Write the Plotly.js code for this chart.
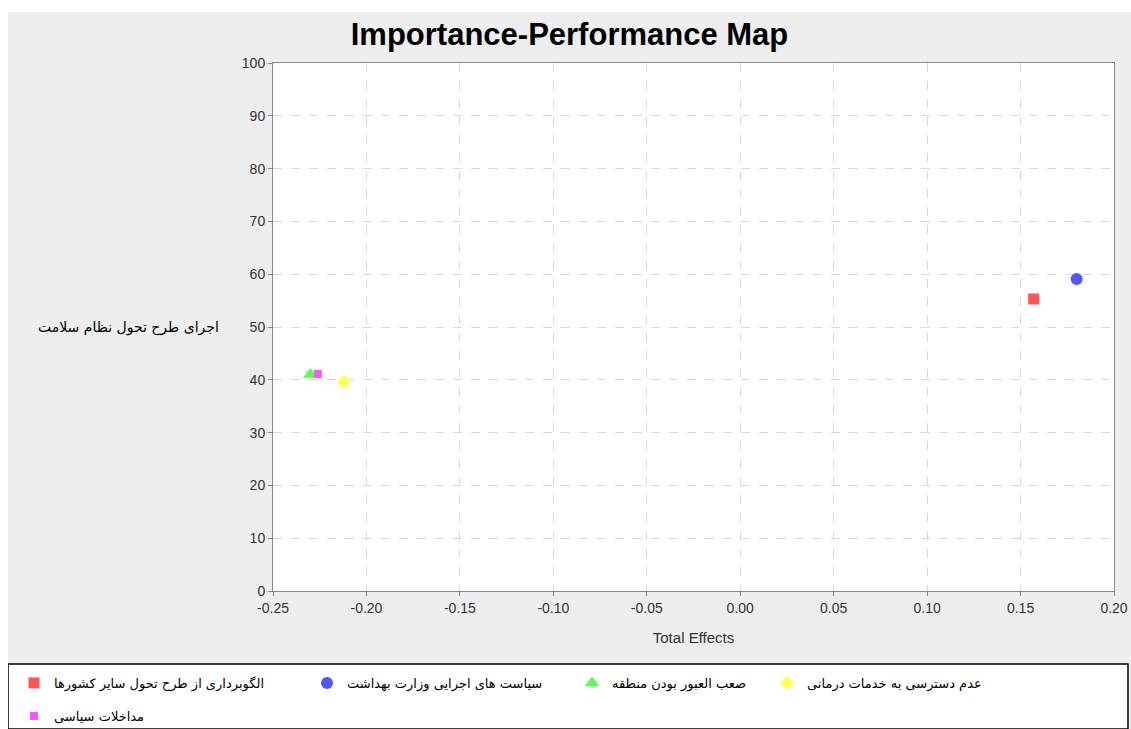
<!DOCTYPE html>
<html><head><meta charset="utf-8">
<script src="https://cdn.plot.ly/plotly-3.0.1.min.js"></script>
<style>
html,body{margin:0;padding:0;background:#ffffff;overflow:hidden;}
#chart{position:absolute;left:8px;top:12px;width:1123px;height:717px;}
</style></head>
<body><div id="chart"></div>
<script>
// Data
const seriesNames = [
  "الگوبرداری از طرح تحول سایر کشورها",
  "سیاست های اجرایی وزارت بهداشت",
  "صعب العبور بودن منطقه",
  "عدم دسترسی به خدمات درمانی",
  "مداخلات سیاسی"
];
const totalEffects = [0.157, 0.180, -0.230, -0.212, -0.226];
const performance = [55.3, 59.1, 41.0, 39.6, 41.1];
const colors = ["#ff5555", "#5555ff", "#55ff55", "#ffff55", "#ff55ff"];
const symbols = ["square", "circle", "triangle-up", "diamond", "square"];
const sizes = [11, 12, 13, 11, 8];
const xTickVals = [-0.25, -0.20, -0.15, -0.10, -0.05, 0.00, 0.05, 0.10, 0.15, 0.20];
const xTickText = ["-0.25", "-0.20", "-0.15", "-0.10", "-0.05", "0.00", "0.05", "0.10", "0.15", "0.20"];
const yTickVals = [0, 10, 20, 30, 40, 50, 60, 70, 80, 90, 100];
const yTitle = "اجرای طرح تحول نظام سلامت";

// legend entry placement (page pixels of marker centre / row centre)
const legendMarkerX = [30, 323, 588, 783, 30];
const legendRowY = [683, 683, 683, 683, 716];

const W = 1123, H = 717, ML = 265, MR = 17, MT = 51, MB = 138;
const PW = W - ML - MR, PH = H - MT - MB;
const px2paperX = p => ((p - 8) - ML) / PW;
const px2paperY = p => ((H - MB) - (p - 12)) / PH;

const legendKey = i => (i === 0 ? "legend" : "legend" + (i + 1));

const traces = seriesNames.map((n, i) => ({
  type: "scatter", mode: "markers", name: n,
  x: [totalEffects[i]], y: [performance[i]],
  marker: {color: colors[i], symbol: symbols[i], size: sizes[i], line: {width: 0}},
  legend: legendKey(i)
}));

const font = {family: "Liberation Sans, Arial, sans-serif", color: "#333333"};
const legendFont = {family: "DejaVu Sans, sans-serif", size: 13, color: "#000000"};

const layout = {
  width: W, height: H,
  paper_bgcolor: "#eeeeee", plot_bgcolor: "#ffffff",
  margin: {l: ML, r: MR, t: MT, b: MB, autoexpand: false},
  font: font,
  title: {text: "<b>Importance-Performance Map</b>", x: 0.5, xref: "container", xanchor: "center",
          y: 1 - 22 / H, yref: "container", yanchor: "middle",
          font: {family: "Liberation Sans, Arial, sans-serif", size: 31, color: "#000000"}},
  xaxis: {range: [-0.25, 0.20], tickvals: xTickVals, ticktext: xTickText,
          showgrid: true, gridcolor: "#d9d9d9", griddash: "dash", gridwidth: 1,
          zeroline: false, showline: true, linecolor: "#888888", linewidth: 1, mirror: true,
          ticks: "outside", ticklen: 4, tickcolor: "#888888",
          tickfont: {size: 14, color: "#333333"},
          title: {text: "Total Effects", font: {size: 15, color: "#333333"}, standoff: 17}},
  yaxis: {range: [0, 100], tickvals: yTickVals,
          showgrid: true, gridcolor: "#d9d9d9", griddash: "dash", gridwidth: 1,
          zeroline: false, showline: true, linecolor: "#888888", linewidth: 1, mirror: true,
          ticks: "outside", ticklen: 4, tickcolor: "#888888",
          tickfont: {size: 14, color: "#333333"}},
  showlegend: true,
  shapes: [{type: "rect", xref: "paper", yref: "paper",
            x0: px2paperX(8), x1: px2paperX(1128), y0: px2paperY(664), y1: px2paperY(729),
            fillcolor: "#ffffff", line: {color: "#000000", width: 1.5}, layer: "below"}],
  annotations: [{text: yTitle, xref: "paper", yref: "y", x: px2paperX(221), y: 50, xanchor: "right", yanchor: "middle",
                 showarrow: false, font: {family: "DejaVu Sans, sans-serif", size: 14, color: "#000000"}}]
};

seriesNames.forEach((n, i) => {
  layout[legendKey(i)] = {
    orientation: "h", x: px2paperX(legendMarkerX[i] - 16), xanchor: "left",
    y: px2paperY(legendRowY[i]), yanchor: "middle",
    bgcolor: "rgba(0,0,0,0)", font: legendFont, itemclick: false, itemdoubleclick: false
  };
});

Plotly.newPlot("chart", traces, layout, {displayModeBar: false, staticPlot: true});
</script></body></html>
